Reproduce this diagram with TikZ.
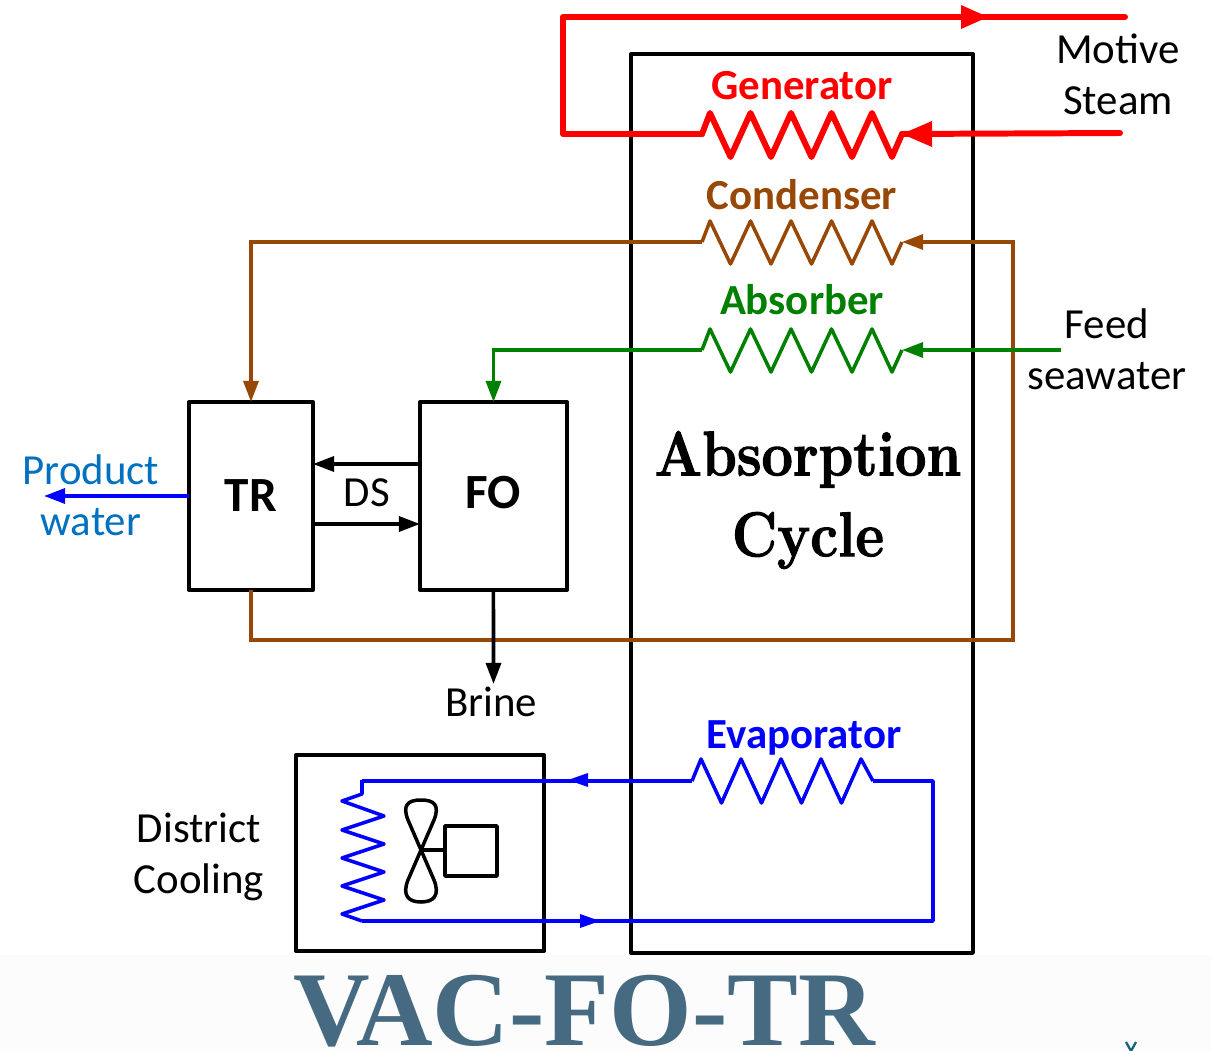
\documentclass[tikz,border=0pt]{standalone}
\usepackage{fontspec}
\usepackage{tikz}
\usetikzlibrary{arrows.meta}
\setmainfont{Carlito}
\newfontfamily\titlefont{Liberation Serif}
\newfontfamily\cyclefont[BoldFeatures={FakeStretch=0.88,FakeBold=1.6}]{Latin Modern Roman}
\definecolor{steamred}{RGB}{255,0,0}
\definecolor{condbrown}{RGB}{152,72,6}
\definecolor{absgreen}{RGB}{0,128,0}
\definecolor{evapblue}{RGB}{0,0,255}
\definecolor{prodblue}{RGB}{0,112,192}
\definecolor{titleblue}{RGB}{70,106,130}
\definecolor{markblue}{RGB}{20,100,125}
\begin{document}
\begin{tikzpicture}[x=0.02cm,y=-0.02cm]
        \tikzset{unit/.style={draw, line width=2.3pt, line join=round, inner sep=0pt, outer sep=0pt, anchor=north west},
                 lab/.style={font=\fontsize{24.4}{29}\selectfont, align=center},
                 coillab/.style={font=\fontsize{24.4}{29}\selectfont\bfseries},
                 boxlab/.style={font=\fontsize{28}{32}\selectfont\bfseries},
                 flow/.style={line join=miter, -{Triangle[length=12pt,width=8.5pt]}},
                 coil line/.style={line width=2pt, line join=round},
                 steam line/.style={line width=3.4pt, line cap=round, line join=round},
                 black line/.style={line width=2pt}}
        \useasboundingbox (0,0) rectangle (1211,1051);
        \fill [black!1] (0,955) rectangle (1211,1051);
        % boxes
        \node [unit, minimum width=6.84cm, minimum height=17.98cm] (cycle) at (631,54){};
        \node [unit, minimum width=2.48cm, minimum height=3.76cm] (TR) at (189,402){};
        \node [unit, minimum width=2.94cm, minimum height=3.76cm] (FO) at (420,402){};
        \node [unit, minimum width=4.96cm, minimum height=3.92cm] (DC) at (296,755){};
        \node [boxlab] at (251,496) {TR};
        \node [boxlab] at (493,493) {FO};
        % coil end points
        \coordinate (genin)  at (902,134);
        \coordinate (genout) at (702,134);
        \coordinate (conin)  at (902,242);
        \coordinate (conout) at (702,242);
        \coordinate (absin)  at (902,350);
        \coordinate (absout) at (702,350);
        \coordinate (evain)  at (873,781);
        \coordinate (evaout) at (692,781);
        % generator
        \draw [steamred, steam line] (genout) -- ++(8,-21) \foreach \n in {1,...,4}{-- ++(20.5,44) -- ++(20,-44)} -- ++(20,44) -- (genin);
        \coordinate (steamin)  at (1120,133);
        \coordinate (steamout) at (1125,17);
        \coordinate (steamtip) at (988,17);
        \draw [steamred, steam line] (steamin) -- (genin);
        \fill [steamred] (genin) -- ++(30,-13) -- ++(0,26) -- cycle;
        \draw [steamred, steam line] (genout) -- (563,134) -- (563,17) -- (steamtip) -- (steamout);
        \fill [steamred] (steamtip) -- ++(-27,-12) -- ++(0,24) -- cycle;
        % condenser
        \draw [condbrown, coil line] (conout) -- ++(8,-21) \foreach \n in {1,...,4}{-- ++(20.5,43) -- ++(20,-43)} -- ++(20,43) -- (conin);
        \coordinate (loopE) at (1013,242);
        \coordinate (loopS) at (1013,640);
        \draw [condbrown, coil line, flow] (TR.south) -- (TR.south |- loopS) -- (loopS) -- (loopE) -- (conin);
        \draw [condbrown, coil line, flow] (conout) -- (TR.north |- conout) -- (TR.north);
        % absorber
        \draw [absgreen, coil line] (absout) -- ++(8,-21) \foreach \n in {1,...,4}{-- ++(20.5,43) -- ++(20,-43)} -- ++(20,43) -- (absin);
        \coordinate (feed) at (1061,350);
        \draw [absgreen, coil line, flow] (feed) -- (absin);
        \draw [absgreen, coil line, flow] (absout) -- (FO.north |- absout) -- (FO.north);
        % evaporator
        \draw [evapblue, coil line] (evaout) -- ++(9,-22) \foreach \n in {1,...,4}{-- ++(20.5,44) -- ++(19.5,-44)} -- (evain);
        \coordinate (dctop) at (362,780);
        \coordinate (dcbot) at (362,921);
        \coordinate (evaR)  at (933,781);
        \draw [evapblue, coil line] (evain) -- (evaR) -- (evaR |- dcbot) -- (dcbot);
        \draw [evapblue, coil line] (evaout) -- (dctop |- evaout) -- (dctop);
        \fill [evapblue] (568,780) -- ++(20,-7) -- ++(0,14) -- cycle;
        \fill [evapblue] (600,921) -- ++(-20,-7) -- ++(0,14) -- cycle;
        % cooling coil
        \draw [evapblue, coil line] (dctop) -- (362,794) -- (342,801) \foreach \n in {1,2,3}{-- (384,816+28*\n-28) -- (342,830+28*\n-28)} -- (384,900) -- (342,914) -- (dcbot);
        % fan
        \node [unit, minimum width=1.04cm, minimum height=1cm, line width=2pt] (motor) at (445,826){};
        \coordinate (hub) at (421,850);
        \draw [line width=2pt, line join=round] (hub) -- (408,820) .. controls (402,805) and (408,800) .. (421,800) .. controls (434,800) and (440,805) .. (434,820) -- (hub)
              -- (408,880) .. controls (402,895) and (408,902) .. (421,902) .. controls (434,902) and (440,895) .. (434,880) -- cycle;
        \draw [line width=2pt] (hub) -- (hub -| motor.west);
        % DS and product
        \draw [black line, flow] (FO.west |- 0,464) -- (TR.east |- 0,464);
        \draw [black line, flow] (TR.east |- 0,524) -- (FO.west |- 0,524);
        \draw [evapblue, black line, flow] (TR.west |- 0,496) -- (44,496);
        \coordinate (brine) at (493.5,684);
        \draw [black line, flow] (FO.south) -- (brine);
        % labels
        \node [lab] at (367,493) {DS};
        \node [lab, text=prodblue, inner sep=0pt] at (91,495) {Product\\water};
        \node [lab] at (491,702) {Brine};
        \node [lab] at (199,857) {District\\Cooling};
        \node [lab] at (1118,74) {Motive\\Steam};
        \node [lab] at (1107,349) {Feed\\seawater};
        \node [coillab, text=steamred] at (802,86) {Generator};
        \node [coillab, text=condbrown] at (802,195) {Condenser};
        \node [coillab, text=absgreen] at (802,300) {Absorber};
        \node [coillab, text=evapblue] at (804,738) {Evaporator};
        \node [font=\fontsize{36}{46}\cyclefont\bfseries, align=center] at (808,500) {Absorption\\Cycle};
        \node [font=\fontsize{60.4}{70}\titlefont\bfseries, text=titleblue, anchor=base, inner sep=0pt] at (584,1045) {VAC-FO-TR};
        \draw [markblue, line width=1.3pt] (1126,1042) -- (1131,1051) -- (1136,1042);
\end{tikzpicture}
\end{document}
